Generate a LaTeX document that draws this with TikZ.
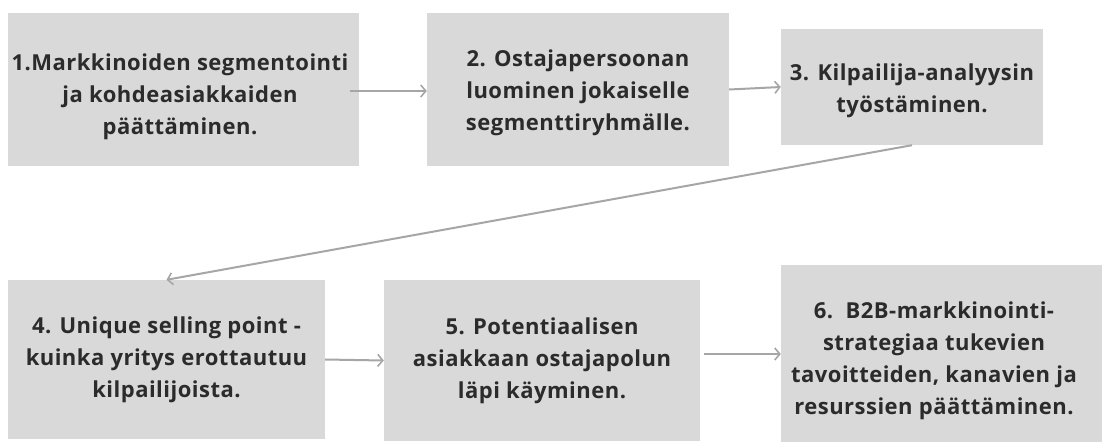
\documentclass[tikz,border=0pt]{standalone}
\usepackage{fontspec}
\setmainfont{Open Sans}[UprightFont=* Bold, Ligatures=NoCommon, LetterSpace=2.2]
\usetikzlibrary{arrows.meta}
\definecolor{boxgray}{HTML}{D9D9D9}
\definecolor{txt}{HTML}{2B2B2B}
\definecolor{arr}{HTML}{A6A6A6}
\tikzset{
  stepbox/.style={fill=boxgray, draw=none, inner sep=0pt},
  steptext/.style={inner sep=0pt, text=txt, align=center,
    font=\fontsize{22}{32}\selectfont},
  flow/.style={draw=arr, line width=2pt, -{Straight Barb[length=5pt,width=12pt,line width=1.6pt]}}
}
\begin{document}
\begin{tikzpicture}[x=1pt,y=-1pt]
\useasboundingbox[fill=white] (0,0) rectangle (1102,442);
\node[stepbox, minimum width=351, minimum height=153] (b1) at (183.5,89.5) {};
\node[stepbox, minimum width=302, minimum height=153] (b2) at (578,89.5) {};
\node[stepbox, minimum width=262, minimum height=116] (b3) at (912,87) {};
\node[stepbox, minimum width=317, minimum height=159] (b4) at (166.5,359.5) {};
\node[stepbox, minimum width=316, minimum height=161] (b5) at (542,360.5) {};
\node[stepbox, minimum width=321, minimum height=177] (b6) at (941.5,353.5) {};
\node[steptext] (t1) at (180,96.5)
  {1.Markkinoiden segmentointi\\ja kohdeasiakkaiden\\päättäminen.};
\node[steptext] (t2) at (578,93)
  {2. Ostajapersoonan\\luominen jokaiselle\\segmenttiryhmälle.};
\node[steptext] (t3) at (912,90.5)
  {3. Kilpailija-analyysin\\työstäminen.};
\node[steptext] (t4) at (166.5,359.5)
  {4. Unique selling point -\\kuinka yritys erottautuu\\kilpailijoista.};
\node[steptext] (t5) at (542,360.5)
  {5. Potentiaalisen\\asiakkaan ostajapolun\\läpi käyminen.};
\node[steptext] (t6) at (934,361)
  {6.\ \ B2B-markkinointi-\\strategiaa tukevien\\tavoitteiden, kanavien ja\\resurssien päättäminen.};
\coordinate (s12) at (350,91);
\coordinate (s56) at (704,354);
\draw[flow] (s12) -- (b2.west |- s12);
\draw[flow] (b2.east) -- (b3.west);
\draw[flow] (b3.south) -- (b4.north);
\draw[flow] (b4.east) -- (b5.west);
\draw[flow] (s56) -- (b6.west |- s56);
\end{tikzpicture}
\end{document}
